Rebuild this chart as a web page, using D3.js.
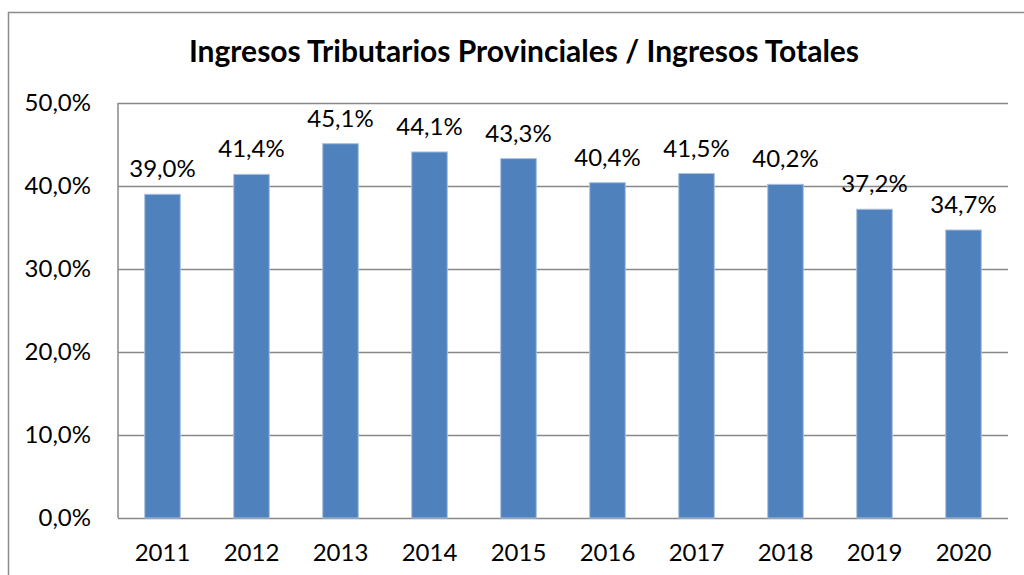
<!DOCTYPE html>
<html lang="es">
<head>
    <meta charset="UTF-8">
    <title>Ingresos Tributarios Provinciales / Ingresos Totales</title>
    <script src="https://d3js.org/d3.v7.min.js"></script>
    <style>
        body {
            margin: 0;
            background: #fff;
        }
        svg text {
            font-family: Lato, "Noto Sans", sans-serif;
            fill: #000;
        }
        .tick text {
            font-size: 24px;
        }
    </style>
</head>
<body>
    <svg width="1024" height="575"></svg>
    <script>
        const years = ["2011", "2012", "2013", "2014", "2015", "2016", "2017", "2018", "2019", "2020"];
        const ratios = [39.0, 41.4, 45.1, 44.1, 43.3, 40.4, 41.5, 40.2, 37.2, 34.7];
        const yTicks = [0, 10, 20, 30, 40, 50];

        const width = 1024;
        const height = 575;
        const margin = { top: 103, right: 16, bottom: 57, left: 118 };

        const fmt = v => d3.format(".1f")(v).replace(".", ",") + "%";

        const svg = d3.select("svg");

        // outer chart frame (right and bottom run off the picture)
        svg.append("rect")
            .attr("x", 8.5)
            .attr("y", 12.5)
            .attr("width", width + 20)
            .attr("height", height + 20)
            .attr("fill", "none")
            .attr("stroke", "#8c8c8c")
            .attr("stroke-width", 1.5);

        svg.append("text")
            .attr("x", 524)
            .attr("y", 62)
            .attr("text-anchor", "middle")
            .style("font-size", "30px")
            .style("font-weight", "bold")
            .text("Ingresos Tributarios Provinciales / Ingresos Totales");

        const x = d3.scaleBand()
            .domain(years)
            .range([margin.left, width - margin.right])
            .paddingInner(0.6)
            .paddingOuter(0.3);

        const y = d3.scaleLinear()
            .domain([0, 50])
            .range([height - margin.bottom, margin.top]);

        // gridlines
        svg.append("g")
            .attr("transform", `translate(${margin.left},0)`)
            .call(d3.axisLeft(y).tickValues(yTicks).tickSize(-(width - margin.left - margin.right)).tickFormat(fmt).tickPadding(27))
            .call(g => g.select(".domain").remove())
            .call(g => g.selectAll(".tick line").attr("stroke", "#888").attr("stroke-width", 1.5));

        svg.append("line")
            .attr("x1", margin.left)
            .attr("x2", margin.left)
            .attr("y1", y(50))
            .attr("y2", y(0))
            .attr("stroke", "#888")
            .attr("stroke-width", 1.5);

        svg.selectAll(".bar")
            .data(years)
            .join("rect")
            .attr("class", "bar")
            .attr("x", d => x(d))
            .attr("y", (d, i) => y(ratios[i]))
            .attr("width", x.bandwidth())
            .attr("height", (d, i) => y(0) - y(ratios[i]))
            .attr("fill", "#4f81bd")
            .attr("stroke", "#a9c0de")
            .attr("stroke-width", 1);

        svg.selectAll(".value")
            .data(years)
            .join("text")
            .attr("class", "value")
            .attr("x", d => x(d) + x.bandwidth() / 2)
            .attr("y", (d, i) => y(ratios[i]) - 17)
            .attr("text-anchor", "middle")
            .style("font-size", "24px")
            .text((d, i) => fmt(ratios[i]));

        svg.append("g")
            .attr("transform", `translate(0,${height - margin.bottom})`)
            .call(d3.axisBottom(x).tickSize(0).tickPadding(26))
            .call(g => g.select(".domain").remove());
    </script>
</body>
</html>
